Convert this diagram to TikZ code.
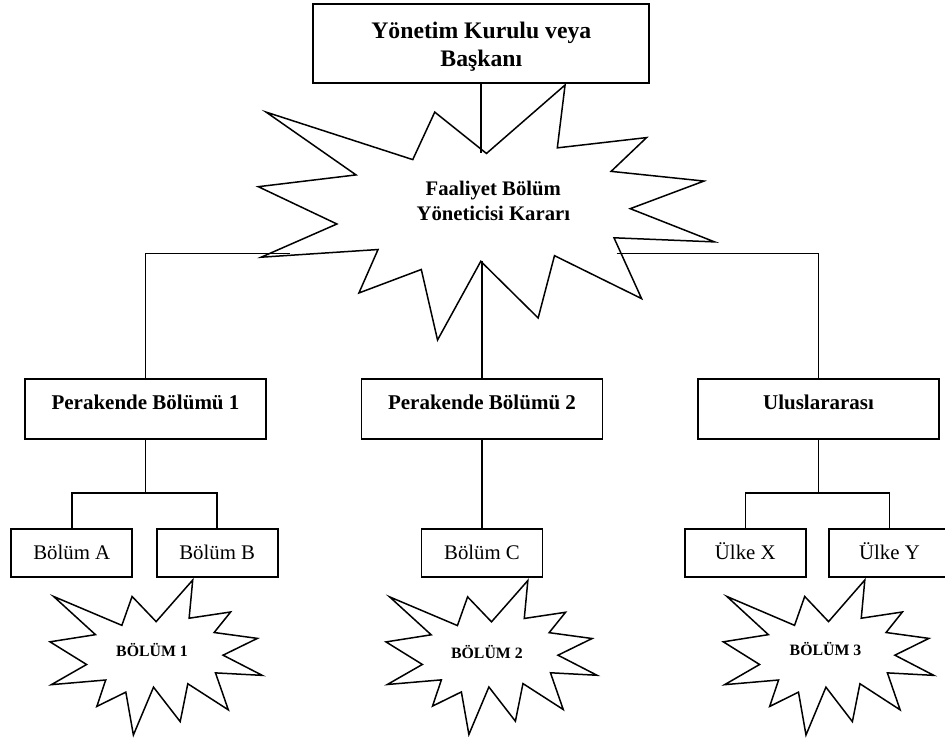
\documentclass[tikz,border=0pt]{standalone}
\usepackage{fontspec}
\setmainfont{Liberation Serif}
\usetikzlibrary{calc}

\tikzset{
  orgbox/.style={draw, rectangle, line width=1.9pt, inner sep=0pt},
  headbox/.style={orgbox, minimum width=336, minimum height=79},
  headtext/.style={font=\bfseries\fontsize{23.7}{28.4}\selectfont, align=center, inner sep=0pt},
  unitbox/.style={orgbox, minimum width=241, minimum height=60,
    font=\bfseries\fontsize{21}{25}\selectfont, text height=15pt, text depth=15pt},
  subbox/.style={orgbox, minimum width=121, minimum height=48,
    font=\fontsize{20.8}{25}\selectfont, text height=13pt, text depth=0pt},
  link/.style={line width=1.5pt},
  burst/.style={line width=1.5pt},
  bursttext/.style={font=\bfseries\fontsize{15.8}{19}\selectfont, inner sep=0pt, anchor=base},
  bigbursttext/.style={font=\bfseries\fontsize{20.7}{24.7}\selectfont, inner sep=0pt, align=center},
}

% Twelve-pointed explosion outline in a unit box, shifted and stretched to
% the given corner (#2,#3) and size #4 x #5; #1-n and #1-s are its upper and
% lower inner corners on the middle axis.
\newcommand\explosionshape[5]{%
  \begin{scope}[shift={(#2,#3)}, xscale=#4, yscale=#5]
    \draw[burst] (0.5000,0.2685) -- (0.6723,0) -- (0.6553,0.2465)
      -- (0.8509,0.2063) -- (0.7732,0.3387) -- (0.9767,0.3767)
      -- (0.8151,0.4850) -- (1,0.6153) -- (0.7795,0.5992)
      -- (0.8400,0.8377) -- (0.6491,0.6693) -- (0.6133,0.9137)
      -- (0.4876,0.6914) -- (0.3928,1) -- (0.3572,0.7235)
      -- (0.2205,0.8156) -- (0.2624,0.6452) -- (0.0063,0.6753)
      -- (0.1723,0.5451) -- (0,0.3988) -- (0.2142,0.3526)
      -- (0.0171,0.1063) -- (0.3385,0.2926) -- (0.3867,0.1063) -- cycle;
    \coordinate (#1-n) at (0.5000,0.2685);
    \coordinate (#1-s) at (0.4876,0.6914);
  \end{scope}}

\begin{document}
\begin{tikzpicture}[x=1pt,y=-1pt]
\useasboundingbox (0,0) rectangle (945,738);

% top of the hierarchy
\node[headbox] (board) at (481,43.5) {};
\node[headtext] (board-text) at (481.3,47) {Yönetim Kurulu veya\\Başkanı};

% decision burst
\explosionshape{big}{258.3}{85}{456.3}{255}
\node[bigbursttext] (big-text) at (493.3,201) {Faaliyet Bölüm\\Yöneticisi Kararı};

% divisions
\node[unitbox] (retail1) at (145.5,409) {Perakende Bölümü 1};
\node[unitbox] (retail2) at (482,409) {Perakende Bölümü 2};
\node[unitbox] (intl) at (818.5,409) {Uluslararası};

% sub-units
\node[subbox] (secA) at (71.8,553) {Bölüm A};
\node[subbox] (secB) at (217.2,553) {Bölüm B};
\node[subbox] (secC) at (482,553) {Bölüm C};
\node[subbox] (landX) at (745.3,553) {Ülke X};
\node[subbox] (landY) at (889.5,553) {Ülke Y};

% division bursts
\explosionshape{b1}{50}{580}{212.3}{155}
\explosionshape{b2}{386}{580.5}{211}{154}
\explosionshape{b3}{723.3}{580}{210.5}{155}
\node[bursttext] (b1-text) at (152,656) {BÖLÜM 1};
\node[bursttext] (b2-text) at (486.9,658) {BÖLÜM 2};
\node[bursttext] (b3-text) at (825.5,655.7) {BÖLÜM 3};

% connectors
\coordinate (lstub) at (290,253.3);
\coordinate (rstub) at (616.7,253.3);
\coordinate (fork1) at (145.5,493);
\coordinate (fork3) at (818.5,493);

\draw[link] (board.south) -- (board.south |- big-n);
\draw[link] (lstub) -| (retail1.north);
\draw[link] (rstub) -| (intl.north);
\draw[link] (big-s -| retail2.north) -- (retail2.north);

\draw[link] (retail1.south) -- (fork1);
\draw[link] (secA.north) |- (fork1) -| (secB.north);
\draw[link] (retail2.south) -- (secC.north);
\draw[link] (intl.south) -- (fork3);
\draw[link] (landX.north) |- (fork3) -| (landY.north);
\end{tikzpicture}
\end{document}
